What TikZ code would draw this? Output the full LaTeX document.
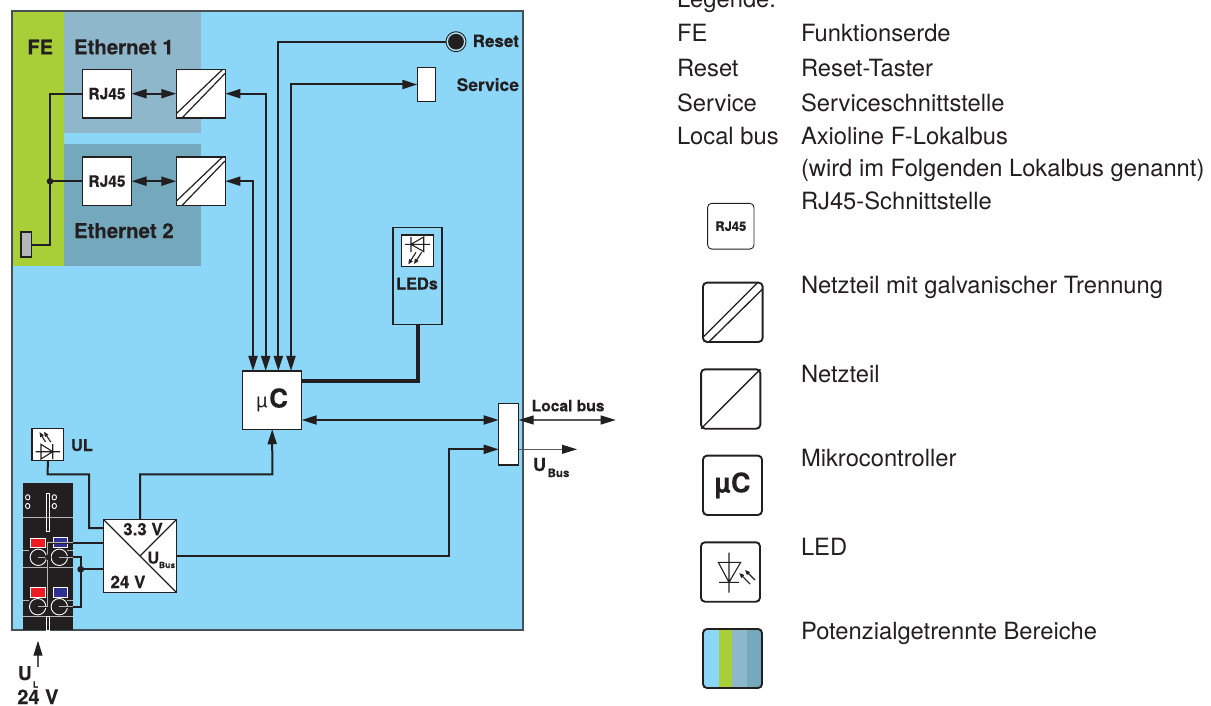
\documentclass[tikz,border=0pt]{standalone}
\usepackage{fontspec}
\setmainfont[BoldFeatures={FakeBold=0.3}]{TeX Gyre Heros}
\usetikzlibrary{arrows.meta,calc}
\definecolor{ink}{HTML}{231F20}
\definecolor{sky}{HTML}{8CD6F8}
\definecolor{leaf}{HTML}{A8CF38}
\definecolor{ethA}{HTML}{8FB7CB}
\definecolor{ethB}{HTML}{74A9BD}
\definecolor{frame}{HTML}{465055}
\definecolor{wire}{HTML}{B4B6B8}
\newcommand{\fs}[1]{\fontsize{#1}{#1}\selectfont}
\tikzset{
  tip/.tip={Triangle[length=15pt,width=9pt,color=ink]},
  mini/.tip={Triangle[length=5pt,width=4pt]},
  bx/.style 2 args={draw=ink,fill=white,line width=1.5pt,inner sep=0pt,outer sep=0pt,minimum width=#1,minimum height=#2,text=ink},
  icon/.style 2 args={bx={#1}{#2},rounded corners=4pt,line width=1.9pt},
  conn/.style={draw=ink,line width=2pt},
  thinln/.style={draw=ink,line width=1.2pt},
  outln/.style={draw=ink!75,line width=1.1pt},
  lab/.style={anchor=base west,inner sep=0pt,outer sep=0pt,text=ink,font=\bfseries\fs{#1}},
  leg/.style={anchor=base west,inner sep=0pt,outer sep=0pt,text=ink,font=\fs{23.75}},
  sym/.style={draw=ink,line width=1.1pt},
}
\begin{document}
\begin{tikzpicture}[x=1pt,y=-1pt]
\useasboundingbox (0,0) rectangle (1211,706);
\clip (0,0) rectangle (1211,706);
% areas
\fill[sky] (11.7,10.7) rectangle (523,630);
\fill[leaf] (11.7,10.7) rectangle (64,266);
\fill[ethA] (64,10.7) rectangle (201,133);
\fill[ethB] (64,144) rectangle (201,266);
\draw[frame,line width=1.8pt] (11.7,10.7) rectangle (523,630);
% terminal
\fill[ink] (23,483.3) rectangle (73,630);
\begin{scope}[line width=.9pt,draw=white]
  \foreach \px/\py in {27.7/497.3,27.7/506,54.3/497.3,54.3/506}
    \draw (\px,\py) ellipse (2.2 and 2.6);
  \draw (46.3,493.3) rectangle (49.7,531.7);
  \draw[wire] (23,517.7) -- (73,517.7);
  \draw[wire] (23,567.3) -- (73,567.3);
  \draw[wire,line width=1.4pt] (23,616.7) -- (73,616.7);
  \draw (46.3,616.7) rectangle (49.7,630);
  \draw[fill={rgb,255:red,237;green,28;blue,36}] (30.7,538) rectangle (45,547.5);
  \draw[fill={rgb,255:red,46;green,49;blue,146}] (53.3,537.3) rectangle (67.5,547.5);
  \draw[fill={rgb,255:red,237;green,28;blue,36}] (30.7,587) rectangle (45,597);
  \draw[fill={rgb,255:red,46;green,49;blue,146}] (53.3,587) rectangle (67.5,597);
  \draw[wire] (23,550) -- (29,550) (67,550) -- (73,550) (23,600) -- (29,600) (67,600) -- (73,600);
  \draw[fill=ink] (38.3,557.3) circle (8.2);
  \draw[fill=ink] (59.3,557.3) circle (8.2);
  \draw[fill=ink] (37.7,606.7) circle (8.2);
  \draw[fill=ink] (59.3,606.7) circle (8.2);
\end{scope}
% boxes
\node[bx={49}{48.5}] (rja) at (107,93.7) {\bfseries\fs{15.5}RJ45};
\node[bx={49}{48.5}] (rjb) at (107,181.2) {\bfseries\fs{15.5}RJ45};
\node[bx={49}{48.5}] (cva) at (200.8,93.7) {};
\node[bx={49}{48.5}] (cvb) at (200.8,181.2) {};
\node[bx={59}{58.3}] (uc) at (272.2,400.1) {{\fs{20}µ}\,{\bfseries\fs{26}C}};
\node[bx={18}{34.4}] (svc) at (426.3,84.5) {};
\node[bx={49}{97.4},fill=none] (ledbox) at (417.5,276) {};
\node[bx={31.6}{31.7}] (ledinner) at (417.5,250.8) {};
\node[bx={20}{61.3}] (bus) at (508.7,434.3) {};
\node[bx={73.4}{73.4}] (psu) at (140,556) {};
\node[bx={31.7}{31.6}] (ulbox) at (47.8,444.5) {};
\node[draw=ink,fill=wire,line width=1.1pt,inner sep=0pt,outer sep=0pt,minimum width=10.5,minimum height=25] (fe) at (26.2,244.5) {};
\node[circle,draw=ink,fill=white!35!sky,line width=.9pt,inner sep=0pt,outer sep=0pt,minimum size=20] (reset) at (456,41.7) {};
\fill[ink] (reset.center) circle (7.9);
% converter diagonals
\draw[thinln] (176.5,113.5) -- (222.5,69.5);
\draw[thinln] (182,118) -- (225,73.5);
\draw[thinln] (176.5,201) -- (222.5,157);
\draw[thinln] (182,205.5) -- (225,161);
% psu diagonals
\draw[thinln] (psu.north west) -- (psu.south east);
\draw[thinln] (psu.north east) -- (psu.center);
% connectors
\coordinate (feTop) at (50,93.7);
\coordinate (feBot) at (50,244.5);
\coordinate (feDot) at (50,181.2);
\draw[conn] (fe.east) -- (feBot) -- (feTop) -- (rja.west);
\draw[conn] (feDot) -- (rjb.west);
\fill[ink] (feDot) circle (3.3);
\draw[conn,{tip}-{tip}] (rja.east) -- (cva.west);
\draw[conn,{tip}-{tip}] (rjb.east) -- (cvb.west);
\coordinate (bA) at (265.7,93.7);
\coordinate (bB) at (253,181.2);
\coordinate (bR) at (278.3,41.7);
\coordinate (bS) at (291,84.5);
\draw[conn,{tip}-{tip}] (cva.east) -- (bA) -- (bA |- uc.north);
\draw[conn,{tip}-{tip}] (cvb.east) -- (bB) -- (bB |- uc.north);
\draw[conn,-{tip}] (reset.west) -- (bR) -- (bR |- uc.north);
\draw[conn,{tip}-{tip}] (svc.west) -- (bS) -- (bS |- uc.north);
\coordinate (ledC) at (417.5,380.5);
\draw[draw=ink,line width=4pt] (ledbox.south) -- (ledC) -- (ledC -| uc.east);
\coordinate (busL) at (420,420);
\draw[conn,{tip}-{tip}] (uc.east |- busL) -- (bus.west |- busL);
\coordinate (lbR) at (615.7,420);
\draw[outln,{tip}-{tip}] (bus.east |- lbR) -- (lbR);
\coordinate (ubR) at (577,449.3);
\draw[outln,-{tip}] (bus.east |- ubR) -- (ubR);
\coordinate (ubA) at (449,555.7);
\coordinate (ubB) at (449,449.3);
\draw[conn,-{tip}] (psu.east |- ubA) -- (ubA) -- (ubB) -- (bus.west |- ubB);
\coordinate (p33) at (140,474.3);
\coordinate (p33b) at (272.3,474.3);
\draw[conn,-{tip}] (psu.north) -- (p33) -- (p33b) -- (uc.south);
\coordinate (ulA) at (47.7,474.3);
\coordinate (ulB) at (89,474.3);
\coordinate (ulC) at (89,528);
\draw[conn] (ulbox.south) -- (ulA) -- (ulB) -- (ulC) -- (psu.west |- ulC);
% terminal wires
\coordinate (wA) at (103.3,542.7);
\coordinate (wB) at (47.5,542.7);
\coordinate (wC) at (47.5,606.7);
\coordinate (wD) at (37.7,606.7);
\coordinate (wDot) at (48.3,557.3);
\coordinate (wE) at (38.3,557.3);
\coordinate (wF) at (59.3,557.3);
\coordinate (wG) at (80.7,557.3);
\coordinate (wH) at (80.7,606.7);
\coordinate (wI) at (59.3,606.7);
\coordinate (wDot2) at (80.7,569.3);
\draw[ink,line width=2pt] (psu.west |- wA) -- (wB) -- (wC) -- (wD);
\draw[ink,line width=2pt] (wE) -- (wDot);
\draw[ink,line width=2pt] (wF) -- (wG) -- (wH) -- (wI);
\draw[ink,line width=2pt] (wDot2) -- (psu.west |- wDot2);
\begin{scope}
  \clip (23,483.3) rectangle (73,630);
  \draw[wire,line width=1.5pt] (73,542.7) -- (wB) -- (wC) -- (wD);
  \draw[wire,line width=1.5pt] (wE) -- (wDot);
  \draw[wire,line width=1.5pt] (wF) -- (73,557.3);
  \draw[wire,line width=1.5pt] (wI) -- (73,606.7);
\end{scope}
\fill[ink] (wDot) circle (3);
\fill[ink] (wDot2) circle (3.4);
% UL arrow
\coordinate (ulT) at (38,640.7);
\coordinate (ulF) at (38,666.7);
\draw[outln,-{tip}] (ulF) -- (ulT);
% LED symbols
\draw[sym] (405,244.3) -- (430,244.3) (411,237) -- (411,252) (411,244.3) -- (423.7,237) -- (423.7,251.6) -- cycle;
\draw[sym,-{mini}] (416,252.3) -- (408.3,264.3);
\draw[sym,-{mini}] (421.7,252.3) -- (414,264);
\draw[sym] (35.5,451.7) -- (60,451.7) (52.7,444) -- (52.7,459) (52.7,451.7) -- (41,444.3) -- (41,459) -- cycle;
\draw[sym,-{mini}] (50.7,442) -- (44,431.7);
\draw[sym,-{mini}] (45.5,442) -- (39.5,432);
% labels
\node[lab=20] (tFE) at (27.5,54.3) {FE};
\node[lab=20.4] (tE1) at (74,54.3) {Ethernet 1};
\node[lab=20.4] (tE2) at (74,238) {Ethernet 2};
\node[lab=17] (tRes) at (472.7,47) {Reset};
\node[lab=17.4] (tSvc) at (456.7,91) {Service};
\node[lab=16.4] (tLED) at (396,289.5) {LEDs};
\node[lab=15.6] (tLB) at (531.7,411.3) {Local bus};
\node[lab=18] (tUb) at (533,471) {U};
\node[lab=11.5] (tUbs) at (547.7,477) {Bus};
\node[lab=16.4] (tUL) at (71,451) {UL};
\node[lab=16.9] (t33) at (123.3,535.3) {3.3 V};
\node[lab=17] (t24) at (110.5,588) {24 V};
\node[lab=16.5] (tU) at (147.3,563.6) {U};
\node[lab=8.5] (tUBus) at (159,568) {Bus};
\node[lab=19] (tUL1) at (18,680) {U};
\node[lab=8.5] (tUL2) at (33,687.5) {L};
\node[lab=20] (t24b) at (17.3,704) {24 V};
% legend
\node[leg] (l0) at (677,7.5) {Legende:};
\node[leg] (l1) at (677,41.5) {FE};
\node[leg] (l1b) at (801,41.5) {Funktionserde};
\node[leg] (l2) at (677,76.5) {Reset};
\node[leg] (l2b) at (801,76.5) {Reset-Taster};
\node[leg] (l3) at (677,111.5) {Service};
\node[leg] (l3b) at (801,111.5) {Serviceschnittstelle};
\node[leg] (l4) at (677,144.5) {Local bus};
\node[leg] (l4b) at (801,144.5) {Axioline F-Lokalbus};
\node[leg] (l4c) at (801,176.5) {(wird im Folgenden Lokalbus genannt)};
\node[leg] (l5) at (801,209) {RJ45-Schnittstelle};
\node[leg] (l6) at (801,293) {Netzteil mit galvanischer Trennung};
\node[leg] (l7) at (801,382) {Netzteil};
\node[leg] (l8) at (801,466) {Mikrocontroller};
\node[leg] (l9) at (801,555) {LED};
\node[leg] (l10) at (801,639) {Potenzialgetrennte Bereiche};
% legend icons
\node[bx={46.3}{45.7},rounded corners=4pt,line width=.9pt] (iRJ) at (730.8,226.2) {\bfseries\fs{13}RJ45};
\node[icon={59.7}{59.3}] (iCv) at (732.8,312.3) {};
\draw[thinln,line width=1.3pt] (703.5,336.7) -- (757.3,283);
\draw[thinln,line width=1.3pt] (709.3,341.5) -- (762.3,289.3);
\node[icon={59.3}{59.4}] (iNt) at (730.7,399) {};
\draw[thinln,line width=1.4pt] (iNt.south west) -- (iNt.north east);
\node[icon={59}{59.3}] (iUc) at (732.5,485.3) {\bfseries\fs{27}µC};
\node[icon={59}{59.4}] (iLed) at (730.5,572) {};
\draw[sym] (729,552.7) -- (729,592.7) (719,582.3) -- (739,582.3) (718.3,562.3) -- (740.7,562.3) -- (729,582.3) -- cycle;
\draw[sym,{mini}-] (739.3,573) -- (750,584);
\draw[sym,{mini}-] (745,570) -- (755,580);
\begin{scope}
  \clip[rounded corners=4pt] (703,629) rectangle (762,688);
  \fill[sky] (703,629) rectangle (719,688);
  \fill[leaf] (719,629) rectangle (732,688);
  \fill[ethA] (732,629) rectangle (747,688);
  \fill[ethB] (747,629) rectangle (762,688);
\end{scope}
\draw[ink,line width=1.9pt,rounded corners=4pt] (703,629) rectangle (762,688);
\end{tikzpicture}
\end{document}
